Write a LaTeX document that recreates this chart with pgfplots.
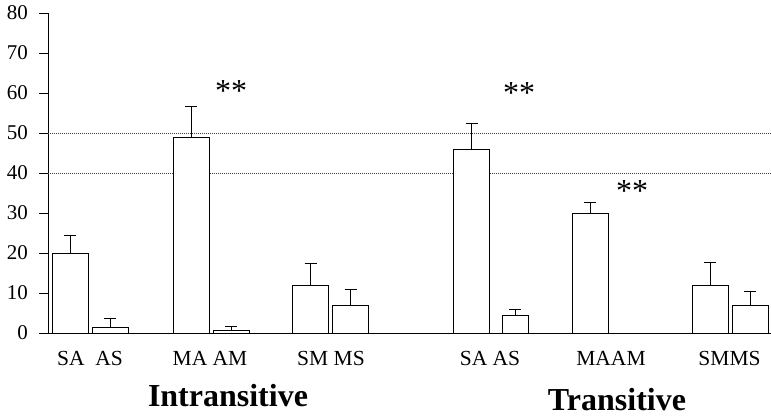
\documentclass[border=0pt]{standalone}
\usepackage{fontspec}
\setmainfont{Liberation Serif}
\usepackage{pgfplots}
\pgfplotsset{compat=1.18}
\begin{document}
\begin{tikzpicture}[x=1pt,y=1pt]
\useasboundingbox (0,0) rectangle (771,419);
\begin{axis}[
  at={(48pt,86pt)}, anchor=south west,
  scale only axis, width=723pt, height=320pt,
  xmin=48, xmax=771, ymin=0, ymax=80,
  axis x line=bottom, axis y line=left,
  axis line style={-, line width=0.8pt, black},
  ytick={0,10,...,80},
  tick align=outside, major tick length=9pt,
  xtick={90,210,331,490,611,729.5},
  xticklabels={SA\ \ AS, MA AM, SM MS, SA AS, MAAM, SMMS},
  x tick style={draw=none},
  y tick style={line width=0.8pt, black},
  yticklabel style={font=\fontsize{21}{21}\selectfont, anchor=east, inner sep=0pt, xshift=-11pt},
  xticklabel style={font=\fontsize{21.5}{21.5}\selectfont, anchor=base, inner sep=0pt, yshift=-24pt},
  /pgf/number format/assume math mode=true,
  clip=false,
]
% dotted reference lines
\addplot[black!75, line width=0.6pt, dash pattern=on 1pt off 1pt] coordinates {(48,50) (771,50)};
\addplot[black!75, line width=0.6pt, dash pattern=on 1pt off 1pt] coordinates {(48,40) (771,40)};
% bars with upward error bars
\addplot[ybar, bar width=36, bar shift=0pt, fill=white, draw=black, line width=0.8pt,
  error bars/.cd, y dir=plus, y explicit,
  error bar style={line width=0.8pt, black},
  error mark options={rotate=90, black, mark size=6pt, line width=0.8pt}]
  table[x=x, y=y, y error=e] {
x     y     e
70    20    4.5
110   1.5   2.2
191   49    7.7
231   0.7   1.0
310.5 11.8  5.7
350.5 6.8   4.0
471.5 46    6.5
590   30    2.7
710   12    5.7
750   7     3.5
};
\addplot[ybar, bar width=26, bar shift=0pt, fill=white, draw=black, line width=0.8pt,
  error bars/.cd, y dir=plus, y explicit,
  error bar style={line width=0.8pt, black},
  error mark options={rotate=90, black, mark size=6pt, line width=0.8pt}]
  table[x=x, y=y, y error=e] {
x     y     e
515   4.3   1.7
};
% AM (transitive) = 0
\addplot[ybar, bar width=36, bar shift=0pt, fill=white, draw=black, line width=0.8pt]
  coordinates {(630,0)};
\node[font=\fontsize{32}{32}\selectfont] at (axis cs:231,60.6) {**};
\node[font=\fontsize{32}{32}\selectfont] at (axis cs:519,59.9) {**};
\node[font=\fontsize{32}{32}\selectfont] at (axis cs:632,35.4) {**};
\node[font=\bfseries\fontsize{32}{32}\selectfont] at (axis cs:228,-15.75) {Intransitive};
\node[font=\bfseries\fontsize{32}{32}\selectfont] at (axis cs:617,-16.75) {Transitive};
\end{axis}
\end{tikzpicture}
\end{document}
